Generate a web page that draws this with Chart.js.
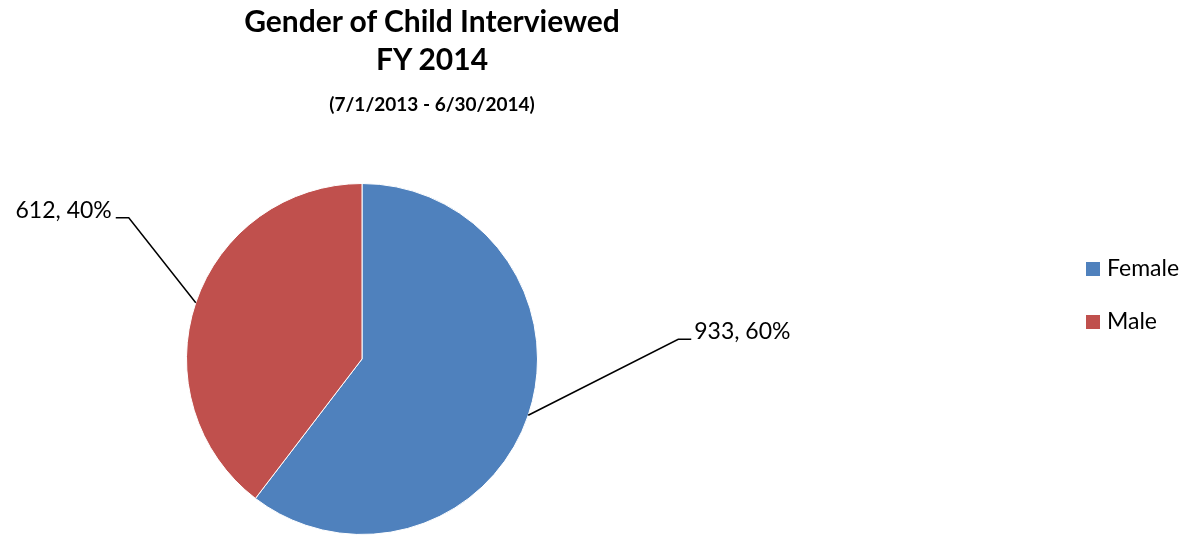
<!DOCTYPE html>
<html>
<head>
<meta charset="utf-8">
<script src="https://cdn.jsdelivr.net/npm/chart.js@4"></script>
<style>
  body { margin: 0; background: #fff; font-family: Lato, "Open Sans", sans-serif; }
  #wrap { position: relative; width: 1196px; height: 535px; }
  #myChart { position: absolute; left: 0; top: 0; }
  .title { position: absolute; left: 232px; width: 400px; text-align: center; font-weight: bold; color: #000; line-height: 1.2; }
  #t1 { top: 2px; font-size: 30px; }
  #t2 { top: 40px; font-size: 30px; }
  #t3 { top: 93px; font-size: 19px; }
  #legend { position: absolute; left: 1086px; top: 253px; font-size: 23px; color: #000; }
  #legend div { height: 53px; display: flex; align-items: flex-start; }
  #legend span.box { display: inline-block; width: 14px; height: 14px; margin-top: 9px; margin-right: 7px; }
</style>
</head>
<body>
<div id="wrap">
  <canvas id="myChart" width="1196" height="535"></canvas>
  <div class="title" id="t1">Gender of Child Interviewed</div>
  <div class="title" id="t2">FY 2014</div>
  <div class="title" id="t3">(7/1/2013 - 6/30/2014)</div>
  <div id="legend"></div>
</div>
<script>
// DATA
const genders = ['Female', 'Male'];
const counts = [933, 612];
const sliceColors = ['#4F81BD', '#C0504D'];

// leader line offsets from slice edge (elbow point) and short tail
const leaderOffsets = [
  { dx: 150, dy: -76, tail: 13 },
  { dx: -67, dy: -85, tail: -13 }
];

// legend
const legendEl = document.getElementById('legend');
genders.forEach(function (g, i) {
  const row = document.createElement('div');
  row.innerHTML = '<span class="box" style="background:' + sliceColors[i] + '"></span>' + g;
  legendEl.appendChild(row);
});

// data labels with leader lines
const leaderLabels = {
  id: 'leaderLabels',
  afterDatasetsDraw(chart) {
    const ctx = chart.ctx;
    const meta = chart.getDatasetMeta(0);
    const total = counts.reduce((a, b) => a + b, 0);
    ctx.save();
    ctx.strokeStyle = '#000';
    ctx.lineWidth = 1.5;
    ctx.fillStyle = '#000';
    ctx.font = '23px Lato, "Open Sans", sans-serif';
    ctx.textBaseline = 'alphabetic';
    meta.data.forEach(function (arc, i) {
      const mid = (arc.startAngle + arc.endAngle) / 2;
      const ex = arc.x + Math.cos(mid) * arc.outerRadius;
      const ey = arc.y + Math.sin(mid) * arc.outerRadius;
      const o = leaderOffsets[i];
      const bx = ex + o.dx, by = ey + o.dy;
      const tx = bx + o.tail;
      ctx.beginPath();
      ctx.moveTo(ex, ey);
      ctx.lineTo(bx, by);
      ctx.lineTo(tx, by);
      ctx.stroke();
      const pct = Math.round(counts[i] / total * 100);
      const txt = counts[i] + ', ' + pct + '%';
      ctx.textAlign = o.tail > 0 ? 'left' : 'right';
      ctx.fillText(txt, tx + (o.tail > 0 ? 3 : -4), by);
    });
    ctx.restore();
  }
};

const config = {
  type: 'pie',
  data: {
    labels: genders,
    datasets: [{
      data: counts,
      backgroundColor: sliceColors,
      borderColor: '#ffffff',
      borderWidth: 1
    }]
  },
  options: {
    responsive: false,
    animation: false,
    layout: {
      padding: { top: 183, bottom: 0, left: 0, right: 472 }
    },
    plugins: {
      legend: { display: false },
      title: { display: false },
      tooltip: { enabled: false }
    }
  },
  plugins: [leaderLabels]
};

const myChart = new Chart(document.getElementById('myChart'), config);
</script>
</body>
</html>
